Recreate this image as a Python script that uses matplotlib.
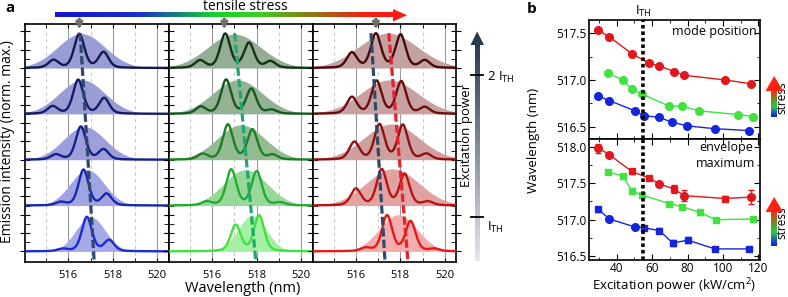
import matplotlib.pyplot as plt
import numpy as np
from matplotlib.colors import LinearSegmentedColormap
from matplotlib.patches import Polygon

plt.rcParams['font.family'] = ['Open Sans', 'DejaVu Sans']
plt.rcParams['mathtext.fontset'] = 'custom'
plt.rcParams['mathtext.rm'] = 'Open Sans'
plt.rcParams['mathtext.it'] = 'Open Sans:italic'
plt.rcParams['mathtext.bf'] = 'Open Sans:bold'

# ---------------- panel a : spectra, rows listed top (high power) -> bottom (low power)
blue_peaks = [[515.33, 516.49, 517.58], [515.29, 516.44, 517.61], [515.44, 516.56, 517.58],
              [515.66, 516.68, 517.72], [515.74, 516.83, 517.83]]
blue_heights = [[0.17, 0.74, 0.34], [0.16, 0.74, 0.34], [0.11, 0.72, 0.22],
                [0.07, 0.78, 0.25], [0.05, 0.75, 0.24]]
blue_env_center = [516.58, 516.62, 516.72, 516.85, 517.0]
blue_env_fwhm = [2.5, 2.4, 2.2, 1.8, 1.55]
blue_env_height = [0.75, 0.74, 0.72, 0.78, 0.75]
blue_guide = [516.53, 517.16]

green_peaks = [[515.46, 516.59, 517.66, 518.62], [515.5, 516.63, 517.76, 518.67],
               [515.58, 516.71, 517.81, 518.72], [515.76, 516.86, 518.0, 519.05],
               [517.06, 518.11]]
green_heights = [[0.16, 0.74, 0.54, 0.14], [0.15, 0.74, 0.54, 0.08], [0.12, 0.76, 0.65, 0.1],
                 [0.08, 0.78, 0.74, 0.06], [0.57, 0.78]]
green_env_center = [517.0, 517.15, 517.3, 517.5, 517.8]
green_env_fwhm = [2.8, 2.6, 2.5, 2.3, 1.5]
green_env_height = [0.74, 0.74, 0.76, 0.78, 0.78]
green_guide = [517.01, 517.96]

red_peaks = [[515.82, 516.9, 518.01, 519.1], [515.82, 516.93, 518.04, 519.1],
             [515.93, 517.06, 518.11, 519.17], [516.0, 517.16, 518.19, 519.24],
             [516.45, 517.4, 518.46, 519.52]]
red_heights = [[0.33, 0.74, 0.72, 0.16], [0.36, 0.71, 0.7, 0.14], [0.38, 0.76, 0.75, 0.12],
               [0.36, 0.78, 0.68, 0.08], [0.07, 0.78, 0.65, 0.05]]
red_env_center = [517.45, 517.5, 517.6, 517.65, 517.9]
red_env_fwhm = [3.1, 3.0, 2.9, 2.8, 2.0]
red_env_height = [0.76, 0.74, 0.78, 0.8, 0.8]
red_guide = [517.48, 518.34]
red_guide2 = [516.68, 517.31]

arrow_wl = [516.49, 516.55, 516.9]

# ---------------- panel b : mode position / envelope maximum vs excitation power
ith = 55
mode_red_p = [29.6, 35.8, 48.5, 58.2, 64.1, 72.4, 78.2, 101.2, 115.9]
mode_red = [517.53, 517.46, 517.28, 517.18, 517.15, 517.09, 517.05, 517.0, 516.96]
mode_green_p = [35.3, 43.4, 48.6, 54.1, 69.7, 76.7, 86.7, 108.7, 116.8]
mode_green = [517.07, 517.0, 516.9, 516.85, 516.72, 516.72, 516.67, 516.63, 516.61]
mode_blue_p = [29.6, 35.8, 50.3, 55.4, 64.1, 71.1, 79.9, 95.5, 114.7]
mode_blue = [516.83, 516.78, 516.67, 516.62, 516.6, 516.55, 516.51, 516.48, 516.46]

env_red_p = [29.6, 35.8, 48.5, 58.2, 64.1, 72.4, 78.2, 101.2, 115.9]
env_red = [517.98, 517.89, 517.66, 517.57, 517.49, 517.42, 517.33, 517.29, 517.31]
env_red_err = [0.06, 0.02, 0.04, 0.02, 0.02, 0.05, 0.08, 0.03, 0.1]
env_green_p = [35.3, 43.4, 48.6, 54.1, 69.7, 76.7, 87.1, 95.9, 117.2]
env_green = [517.65, 517.6, 517.39, 517.34, 517.22, 517.18, 517.1, 517.0, 517.01]
env_green_err = [0.02, 0.02, 0.04, 0.02, 0.02, 0.02, 0.03, 0.03, 0.03]
env_blue_p = [29.6, 35.8, 50.3, 55.4, 64.1, 71.7, 80.1, 95.5, 114.7]
env_blue = [517.14, 517.01, 516.9, 516.89, 516.85, 516.68, 516.72, 516.6, 516.6]
env_blue_err = [0.03, 0.02, 0.02, 0.03, 0.03, 0.04, 0.04, 0.03, 0.03]

W, H = 788, 297
fig = plt.figure(figsize=(W / 100, H / 100), dpi=100)


def rect(x0, y0, x1, y1):
    return [x0 / W, 1 - y1 / H, (x1 - x0) / W, (y1 - y0) / H]


line_cols = [['#121850', '#141c68', '#15208a', '#1626b0', '#1a2ed2'],
             ['#0f3512', '#155a1b', '#1b7f25', '#22ab30', '#3ee43c'],
             ['#4a0808', '#6c0c0c', '#8e1010', '#b81414', '#e61a1a']]
fill_cols = [['#9a9cd6', '#9a9cd6', '#9c9fda', '#a0a4e2', '#a6aaea'],
             ['#95ac95', '#95b295', '#93bc93', '#98d898', '#a4f0a4'],
             ['#c4a2a2', '#c8a2a2', '#d0a0a0', '#e2a2a2', '#f4acac']]
guide_cols = ['#2e4a6a', '#1fa870', '#e8202a']

panels = [(blue_peaks, blue_heights, blue_env_center, blue_env_fwhm, blue_env_height, blue_guide),
          (green_peaks, green_heights, green_env_center, green_env_fwhm, green_env_height, green_guide),
          (red_peaks, red_heights, red_env_center, red_env_fwhm, red_env_height, red_guide)]

edges = [25, 168.5, 312.5, 456]
x = np.linspace(514.0, 520.6, 600)
ylo, yhi = -0.22, 4.96
for k, (pk, ht, ec, ew, eh, guide) in enumerate(panels):
    ax = fig.add_axes(rect(edges[k], 24, edges[k + 1], 261.5))
    for i in range(5):
        off = 4 - i
        env = eh[i] * np.exp(-4 * np.log(2) * (x - ec[i]) ** 2 / ew[i] ** 2)
        ax.fill_between(x, off, off + env, color=fill_cols[k][i], lw=0, zorder=1)
        spec = np.zeros_like(x)
        for p, h in zip(pk[i], ht[i]):
            spec += h * (0.65 * np.exp(-(x - p) ** 2 / (2 * 0.23 ** 2))
                         + 0.35 / (1 + ((x - p) / 0.26) ** 2))
        ax.plot(x, off + spec, color=line_cols[k][i], lw=1.7, zorder=3)
    ax.plot(guide, [yhi - 0.2, ylo], color=guide_cols[k], lw=2.3, ls=(0, (2.6, 1.0)), zorder=4)
    if k == 2:
        ax.plot(red_guide2, [yhi - 0.2, ylo], color=guide_cols[0], lw=2.3, ls=(0, (2.6, 1.0)), zorder=4)
    ax.annotate('', xy=(arrow_wl[k], yhi - 0.18), xytext=(arrow_wl[k], yhi + 0.17),
                arrowprops=dict(arrowstyle='-|>', color='#707070', lw=2.2, mutation_scale=9),
                annotation_clip=False, zorder=6)
    ax.set_xlim(514.05, 520.5)
    ax.set_ylim(ylo, yhi)
    ax.set_xticks([516, 518, 520])
    ax.set_xticks([515, 517, 519], minor=True)
    ax.set_yticks(np.arange(0, 5, 0.4))
    ax.set_yticks(np.arange(0, 5, 0.2), minor=True)
    ax.set_yticklabels([])
    ax.grid(True, which='major', axis='x', color='#9a9a9a', lw=0.8, zorder=0)
    ax.grid(True, which='minor', axis='x', color='#c8c8c8', lw=0.8, ls=(0, (3, 3)), zorder=0)
    ax.set_axisbelow(True)
    ax.tick_params(axis='x', which='both', direction='in', top=True, labelsize=8, pad=6, length=3)
    ax.tick_params(axis='y', which='major', direction='inout', right=True, length=7)
    ax.tick_params(axis='y', which='minor', direction='in', right=True, length=3.5)
    for s in ax.spines.values():
        s.set_linewidth(1.2)

fig.text(243 / W, 1 - 289 / H, 'Wavelength (nm)', ha='center', va='center', fontsize=10.5)
fig.text(8 / W, 1 - 142 / H, 'Emission intensity (norm. max.)', ha='center', va='center',
         rotation=90, fontsize=10)

# ---------------- panel b axes
axt = fig.add_axes(rect(588.5, 20, 760, 139))
axb = fig.add_axes(rect(588.5, 139, 760, 259.5))
cols_b = ['#e2171c', '#3fe23f', '#1426dc']
for p, v, c in zip([mode_red_p, mode_green_p, mode_blue_p], [mode_red, mode_green, mode_blue], cols_b):
    axt.plot(p, v, '-o', color=c, lw=1.0, ms=5.5, zorder=3)

env_marks = [['o', 'o', 's', 's', 'o', 's', 'o', 's', 'o'],
             ['s'] * 9,
             ['s', 'o', 'o', 's', 's', 's', 's', 's', 's']]
for p, v, e, c, mk in zip([env_red_p, env_green_p, env_blue_p], [env_red, env_green, env_blue],
                          [env_red_err, env_green_err, env_blue_err], cols_b, env_marks):
    axb.errorbar(p, v, yerr=e, color=c, lw=1.0, fmt='none', capsize=2.5, elinewidth=1.0, zorder=3)
    axb.plot(p, v, '-', color=c, lw=1.0, zorder=3)
    for pi, vi, m in zip(p, v, mk):
        axb.plot(pi, vi, m, color=c, ms=5.5 if m == 'o' else 5.0, zorder=4)

for ax in (axt, axb):
    ax.axvline(ith, color='black', lw=2.6, ls=(0, (1, 0.8)), zorder=5)
    ax.set_xlim(24, 121)
    ax.set_xticks([40, 60, 80, 100, 120])
    ax.set_xticks(np.arange(30, 121, 10), minor=True)
    ax.tick_params(which='both', direction='in', top=True, right=True, labelsize=8.5, pad=1.5)
    ax.tick_params(which='major', length=4)
    ax.tick_params(which='minor', length=2.5)
    for s in ax.spines.values():
        s.set_linewidth(1.2)
axt.set_ylim(516.37, 517.64)
axt.set_yticks([516.5, 517.0, 517.5])
axt.set_yticks([516.75, 517.25], minor=True)
axt.set_yticklabels(['516.5', '517.0', '517.5'])
axt.tick_params(labelbottom=False)
axb.set_ylim(516.455, 518.105)
axb.set_yticks([516.5, 517.0, 517.5, 518.0])
axb.set_yticks([516.75, 517.25, 517.75], minor=True)
axb.set_yticklabels(['516.5', '517.0', '517.5', '518.0'])
axt.text(0.98, 0.9, 'mode position', transform=axt.transAxes, ha='right', va='center', fontsize=9)
axb.text(0.8, 0.86, 'envelope\nmaximum', transform=axb.transAxes, ha='center', va='center',
         fontsize=9, linespacing=1.3)
fig.text(534 / W, 1 - 140 / H, 'Wavelength (nm)', ha='center', va='center', rotation=90, fontsize=9.5)
fig.text(674 / W, 1 - 286 / H, 'Excitation power (kW/cm$^2$)', ha='center', va='center', fontsize=9.5)
fig.text(643 / W, 1 - 11 / H, 'I$_{\\mathrm{TH}}$', ha='center', va='center', fontsize=9.5)

# ---------------- decorations (pixel coordinates overlay)
deco = fig.add_axes([0, 0, 1, 1], zorder=10)
deco.set_xlim(0, W)
deco.set_ylim(H, 0)
deco.axis('off')
deco.patch.set_alpha(0)


def grad_bar(x0, y0, x1, y1, colors, vertical=False):
    cmap = LinearSegmentedColormap.from_list('g', colors)
    g = np.linspace(0, 1, 256)
    img = g[:, None] if vertical else g[None, :]
    deco.imshow(img, cmap=cmap, extent=(x0, x1, y1, y0),
                origin='upper' if vertical else 'lower', aspect='auto', interpolation='bilinear')


# tensile stress arrow
stress_cols = [(0, '#1414d2'), (0.25, '#1a30cc'), (0.47, '#18d02c'), (0.6, '#3ad020'),
               (0.78, '#9a6c12'), (0.92, '#f81c12'), (1, '#ff1a10')]
grad_bar(55, 13, 394, 17.5, stress_cols)
deco.add_patch(Polygon([[393, 9], [407, 15.2], [393, 21.5]], closed=True, color='#ff1a10', lw=0))
fig.text(245 / W, 1 - 6.5 / H, 'tensile stress', ha='center', va='center', fontsize=10)

# excitation power arrow (vertical; image row 0 at top)
grad_bar(475, 44, 479.5, 261, [(0, '#2a3a50'), (1, '#e6e9ee')], vertical=True)
deco.add_patch(Polygon([[470.5, 45], [477.2, 31.5], [484, 45]], closed=True, color='#2a3a50', lw=0))
for yy in (75, 216.5):
    deco.plot([471.5, 483.5], [yy, yy], color='black', lw=1.3)
fig.text(466.5 / W, 1 - 135 / H, 'Excitation power', ha='center', va='center', rotation=90, fontsize=9.5)
fig.text(487 / W, 1 - 77 / H, '2 I$_{\\mathrm{TH}}$', ha='left', va='center', fontsize=9.5)
fig.text(487 / W, 1 - 227 / H, 'I$_{\\mathrm{TH}}$', ha='left', va='center', fontsize=9.5)

# stress arrows in panel b (blue bottom -> red top)
sc = [(0, '#ff2a10'), (0.35, '#5a9a30'), (0.6, '#30c840'), (0.85, '#1a50d0'), (1, '#1020e0')]
for top, base, bot in ((76, 91, 117), (197, 212, 246)):
    grad_bar(771.5, base, 777, bot, sc, vertical=True)
    deco.add_patch(Polygon([[765.5, base], [774.2, top], [783, base]], closed=True, color='#ff2010', lw=0))
    fig.text(781.5 / W, 1 - ((top + bot) / 2 + 1) / H, 'stress', ha='center', va='center',
             rotation=90, fontsize=8.5)

fig.text(5 / W, 1 - 8 / H, 'a', ha='left', va='center', fontsize=11, fontweight='bold')
fig.text(527 / W, 1 - 9 / H, 'b', ha='left', va='center', fontsize=11, fontweight='bold')

fig.savefig('out.png', dpi=100)
